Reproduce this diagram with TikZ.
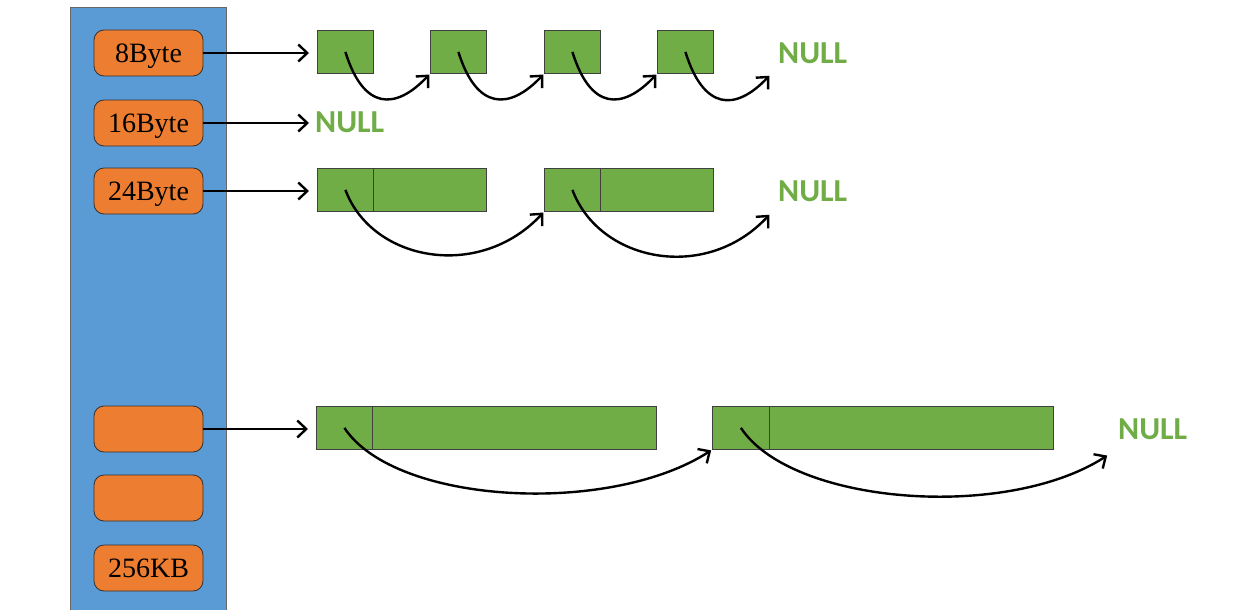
\documentclass[tikz,border=0pt]{standalone}
\usepackage{fontspec}
\setmainfont{Liberation Serif}
\newfontfamily\nulltxtfont{Carlito}
\usetikzlibrary{arrows.meta}
\definecolor{colblue}{HTML}{5B9BD5}
\definecolor{boxorange}{HTML}{ED7D31}
\definecolor{cellgreen}{HTML}{70AD47}
\tikzset{
  column/.style={draw=gray!80!black, fill=colblue, line width=0.8pt, minimum width=156pt, minimum height=610pt, anchor=north west, inner sep=0pt},
  sizebox/.style={draw=black!80, fill=boxorange, line width=0.8pt, rounded corners=10pt, minimum width=109pt, minimum height=46pt, inner sep=0pt, text depth=0pt, font=\fontsize{28}{28}\selectfont},
  cell/.style={draw=black!75, fill=cellgreen, line width=0.8pt, anchor=north west, inner sep=0pt, minimum height=43pt},
  nulltext/.style={text=cellgreen, font=\nulltxtfont\bfseries\fontsize{32}{32}\selectfont, inner sep=0pt, anchor=west},
  ptr/.style={line width=2.4pt, -{Straight Barb[length=9pt,width=17pt,line width=2.4pt]}},
  link/.style={line width=2.4pt, -{Straight Barb[length=9pt,width=17pt,line width=2.4pt]}, shorten >=1pt},
}
\begin{document}
\begin{tikzpicture}[x=1pt,y=-1pt]
\useasboundingbox (0,0) rectangle (1255,610);
\node[column] (col) at (70,7) {};
% size boxes
\node[sizebox] (o1) at (148.5,53) {8Byte};
\node[sizebox] (o2) at (148.5,123) {16Byte};
\node[sizebox] (o3) at (148.5,191) {24Byte};
\node[sizebox] (o4) at (148.5,429) {};
\node[sizebox] (o5) at (148.5,498) {};
\node[sizebox] (o6) at (148.5,568) {256KB};
% row 1 cells
\node[cell, minimum width=56pt] (a1) at (317,30) {};
\node[cell, minimum width=56pt] (a2) at (430,30) {};
\node[cell, minimum width=56pt] (a3) at (544,30) {};
\node[cell, minimum width=56pt] (a4) at (657,30) {};
\node[nulltext] (n1) at (778,53) {NULL};
% row 2
\node[nulltext] (n2) at (315,122) {NULL};
% row 3 cells
\node[cell, minimum width=56pt] (b1) at (317,168) {};
\node[cell, minimum width=113pt] (b1d) at (373,168) {};
\node[cell, minimum width=56pt] (b2) at (544,168) {};
\node[cell, minimum width=113pt] (b2d) at (600,168) {};
\node[nulltext] (n3) at (778,191) {NULL};
% row 4 cells
\node[cell, minimum width=56pt] (c1) at (316,406) {};
\node[cell, minimum width=284pt] (c1d) at (372,406) {};
\node[cell, minimum width=57pt] (c2) at (712,406) {};
\node[cell, minimum width=284pt] (c2d) at (769,406) {};
\node[nulltext] (n4) at (1118,429) {NULL};
% end points near NULL
\coordinate (e1) at (770,75);
\coordinate (e3) at (770,214);
\coordinate (e4) at (1108,455);
% pointers from size boxes
\draw[ptr, shorten >=8pt] (o1.east) -- (o1.east -| a1.west);
\draw[ptr, shorten >=6pt] (o2.east) -- (o2.east -| n2.west);
\draw[ptr, shorten >=8pt] (o3.east) -- (o3.east -| b1.west);
\draw[ptr, shorten >=8pt] (o4.east) -- (o4.east -| c1.west);
% row 1 links
\draw[link] (a1.center) .. controls +(18,58) and +(-35,37) .. (a2.south west);
\draw[link] (a2.center) .. controls +(18,58) and +(-35,37) .. (a3.south west);
\draw[link] (a3.center) .. controls +(18,58) and +(-35,37) .. (a4.south west);
\draw[link] (a4.center) .. controls +(18,58) and +(-35,37) .. (e1);
% row 3 links
\draw[link] (b1.center) .. controls +(27,72) and +(-64,69) .. (b2.south west);
\draw[link] (b2.center) .. controls +(27,72) and +(-64,69) .. (e3);
% row 4 links
\draw[link] (c1.center) .. controls +(51,77) and +(-102,66) .. (c2.south west);
\draw[link] (c2.center) .. controls +(51,77) and +(-102,66) .. (e4);
\end{tikzpicture}
\end{document}
